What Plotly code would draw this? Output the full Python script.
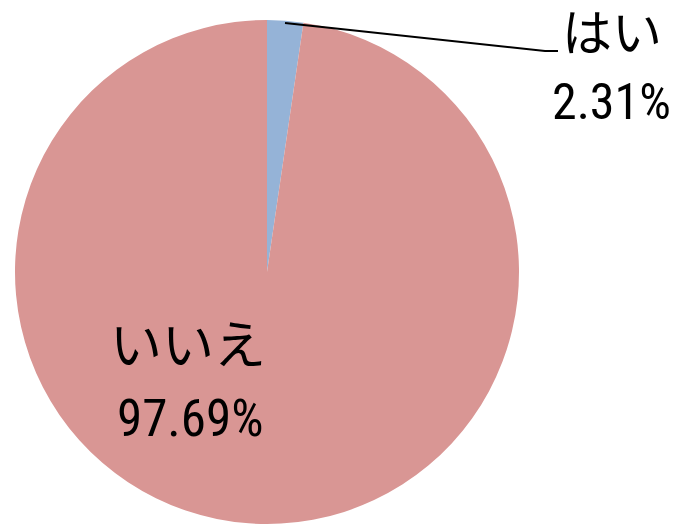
import plotly.graph_objects as go

labels = ["はい", "いいえ"]
values = [2.31, 97.69]
pct_text = ["2.31%", "97.69%"]
colors = ["#95B3D7", "#D99694"]

W, H = 677, 524
OFF = 8  # page body margin

def px(x):
    return (x - OFF) / W

def py(y):
    return 1 - (y - OFF) / H

fig = go.Figure()
fig.add_trace(go.Pie(
    labels=labels, values=values, sort=False, direction="clockwise", rotation=0,
    marker=dict(colors=colors, line=dict(width=0)),
    textinfo="none", hoverinfo="label+percent", showlegend=False,
    domain=dict(x=[px(14), px(520)], y=[py(524), py(20)]),
))

font_fam = "Roboto Condensed, Noto Sans CJK JP, sans-serif"
ann = [
    (labels[0], 612, 34, 50),
    (pct_text[0], 611, 102, 50),
    (labels[1], 188, 346, 52),
    (pct_text[1], 190, 418, 51),
]
annotations = [dict(text=t, x=px(x), y=py(y), xref="paper", yref="paper",
                    xanchor="center", yanchor="middle", showarrow=False,
                    font=dict(family=font_fam, size=s, color="#000000"))
               for t, x, y, s in ann]

fig.update_layout(
    width=W, height=H, margin=dict(l=0, r=0, t=0, b=0),
    paper_bgcolor="white", plot_bgcolor="white",
    annotations=annotations,
    shapes=[dict(type="path", xref="paper", yref="paper",
                 path=f"M {px(285)},{py(23)} L {px(545)},{py(51)} L {px(558)},{py(51)}",
                 line=dict(color="black", width=2))],
)

fig.write_html("out.html")
